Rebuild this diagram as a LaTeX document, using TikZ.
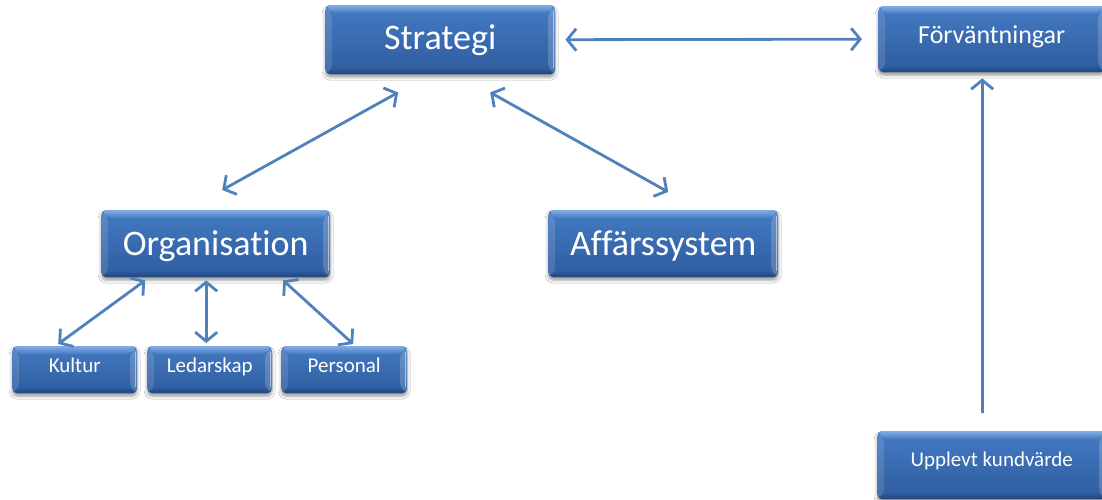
\documentclass[tikz,border=0pt]{standalone}
\usepackage{fontspec}
\setmainfont{Carlito}[Ligatures=NoCommon]
\usetikzlibrary{arrows.meta,calc,shadows.blur}
\definecolor{boxtop}{RGB}{68,122,194}
\definecolor{boxbot}{RGB}{46,92,158}
\definecolor{bevhi}{RGB}{128,172,228}
\definecolor{bevlo}{RGB}{32,68,120}
\definecolor{arrblue}{RGB}{79,129,189}
\tikzset{
  boxs/.style={rectangle, rounded corners=5pt, inner sep=0pt, text=white, anchor=north west,
    top color=boxtop, bottom color=boxbot,
    blur shadow={shadow xshift=0pt, shadow yshift=-3pt, shadow blur radius=3pt, shadow opacity=40},
    path picture={
      \path (path picture bounding box.north west) coordinate (ppnw)
            (path picture bounding box.north east) coordinate (ppne)
            (path picture bounding box.south west) coordinate (ppsw)
            (path picture bounding box.south east) coordinate (ppse);
      \shade[top color=bevhi, bottom color=boxtop] (ppnw) -- (ppne) -- ([shift={(-7pt,-8pt)}]ppne) -- ([shift={(7pt,-8pt)}]ppnw) -- cycle;
      \shade[top color=boxbot, bottom color=bevlo] ([shift={(7pt,6pt)}]ppsw) -- ([shift={(-7pt,6pt)}]ppse) -- (ppse) -- (ppsw) -- cycle;
      \fill[white, opacity=0.12] (ppnw) -- ([shift={(7pt,-8pt)}]ppnw) -- ([shift={(7pt,6pt)}]ppsw) -- (ppsw) -- cycle;
      \fill[white, opacity=0.18] (ppne) -- ([shift={(-7pt,-8pt)}]ppne) -- ([shift={(-7pt,6pt)}]ppse) -- (ppse) -- cycle;
      \draw[white, opacity=0.5, line width=0.8pt] ([shift={(-2pt,-6pt)}]ppne) -- ([shift={(-2pt,6pt)}]ppse);
    }},
  bigtxt/.style={font=\fontsize{36}{40}\selectfont},
  midtxt/.style={font=\fontsize{26}{30}\selectfont},
  smalltxt/.style={font=\fontsize{21}{24}\selectfont},
  arr/.style={draw=arrblue, line width=2.8pt, {Straight Barb[length=9pt,width=22pt]}-{Straight Barb[length=9pt,width=22pt]}},
  arrone/.style={draw=arrblue, line width=2.8pt, -{Straight Barb[length=9pt,width=22pt]}}
}
\begin{document}
\begin{tikzpicture}[x=1pt,y=-1pt]
\useasboundingbox[fill=white] (0,0) rectangle (1102,500);
% boxes
\node[boxs,bigtxt,minimum width=230pt,text height=44pt,text depth=25pt] (str) at (325,5) {Strategi};
\node[boxs,midtxt,minimum width=227pt,text height=37pt,text depth=29pt] (forv) at (878,6) {Förväntningar};
\node[boxs,bigtxt,minimum width=229pt,text height=45pt,text depth=22pt] (org) at (101,210) {Organisation};
\node[boxs,bigtxt,minimum width=230pt,text height=45pt,text depth=22pt] (aff) at (548,210) {Affärssystem};
\node[boxs,smalltxt,minimum width=125pt,text height=26pt,text depth=21pt] (kul) at (12,346) {Kultur};
\node[boxs,smalltxt,minimum width=125pt,text height=26pt,text depth=21pt] (led) at (147,346) {Ledarskap};
\node[boxs,smalltxt,minimum width=126pt,text height=26pt,text depth=21pt] (per) at (281,346) {Personal};
\node[boxs,smalltxt,minimum width=229pt,text height=35pt,text depth=33pt] (upp) at (877,431) {Upplevt kundvärde};
% connectors
\draw[arr] ($(str.east)+(10,0)$) -- ($(forv.west)+(-16,0)$);
\draw[arr] ($(str.south)+(-42,18)$) -- ($(org.north)+(6.5,-20)$);
\draw[arr] ($(str.south)+(50,18)$) -- ($(aff.north)+(5,-18)$);
\draw[arr] ($(org.south)+(-70.5,3)$) -- ($(kul.north)+(-16.5,-2)$);
\draw[arr] ($(org.south)+(-9.5,3)$) -- ($(led.north)+(-3.5,-3)$);
\draw[arr] ($(org.south)+(67.5,3)$) -- ($(per.north)+(9,-2)$);
\draw[arrone] ($(upp.north)+(-9.5,-18)$) -- ($(forv.south)+(-9.5,6)$);
\end{tikzpicture}
\end{document}
